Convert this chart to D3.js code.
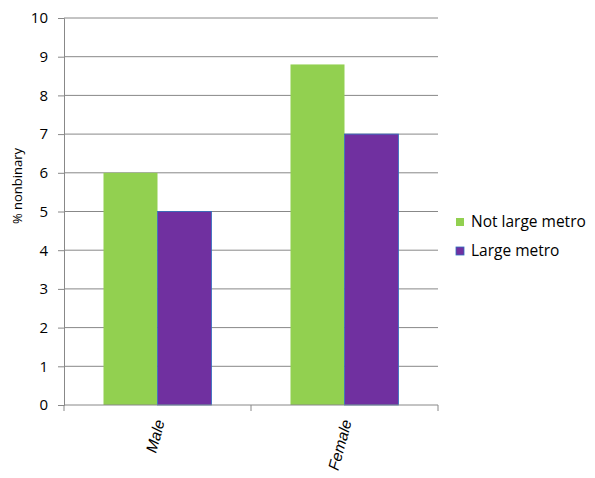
<!DOCTYPE html>
<html>
<head>
<meta charset="utf-8">
<script src="https://cdn.jsdelivr.net/npm/d3@7"></script>
<style>
  body { margin: 0; background: #fff; }
  svg { display: block; }
</style>
</head>
<body>
<svg id="chart"></svg>
<script>
const categories = ['Male', 'Female'];
const seriesNames = ['Not large metro', 'Large metro'];
const notLargeMetro = [6, 8.8];
const largeMetro = [5, 7];
const yTicks = [0, 1, 2, 3, 4, 5, 6, 7, 8, 9, 10];

const width = 595;
const height = 478;
const margin = { top: 18, right: 157, bottom: 73, left: 64 };

const colors = ['#92d050', '#7030a0'];
const strokes = ['none', '#2f6fbf'];

const svg = d3.select('#chart')
  .attr('width', width)
  .attr('height', height);

const plotW = width - margin.left - margin.right;
const plotH = height - margin.top - margin.bottom;

const g = svg.append('g')
  .attr('transform', `translate(${margin.left},${margin.top})`);

const x0 = d3.scaleBand()
  .domain(categories)
  .range([0, plotW]);

// bars sit in the middle of each band, gap of ~39px each side
const x1 = d3.scaleBand()
  .domain(seriesNames)
  .range([39.5, x0.bandwidth() - 39.5]);

const y = d3.scaleLinear()
  .domain([0, 10])
  .range([plotH, 0]);

// gridlines
g.append('g')
  .selectAll('line')
  .data(yTicks.filter(d => d > 0))
  .enter()
  .append('line')
  .attr('x1', 0)
  .attr('x2', plotW)
  .attr('y1', d => y(d))
  .attr('y2', d => y(d))
  .attr('stroke', '#888')
  .attr('stroke-width', 1);

// bars
const rows = categories.map((c, i) => ({
  cat: c,
  vals: [notLargeMetro[i], largeMetro[i]]
}));

const groups = g.selectAll('.grp')
  .data(rows)
  .enter()
  .append('g')
  .attr('class', 'grp')
  .attr('transform', d => `translate(${x0(d.cat)},0)`);

groups.selectAll('rect')
  .data(d => d.vals.map((v, j) => ({ name: seriesNames[j], v, j })))
  .enter()
  .append('rect')
  .attr('x', d => x1(d.name))
  .attr('width', x1.bandwidth())
  .attr('y', d => y(d.v))
  .attr('height', d => plotH - y(d.v))
  .attr('fill', d => colors[d.j])
  .attr('stroke', d => strokes[d.j])
  .attr('stroke-width', 0.8);

// y axis
const yAxis = g.append('g')
  .call(d3.axisLeft(y).tickValues(yTicks).tickSize(6).tickPadding(10));
yAxis.select('.domain').attr('stroke', '#888');
yAxis.selectAll('.tick line').attr('stroke', '#888');
yAxis.selectAll('text')
  .attr('font-family', 'Open Sans, sans-serif')
  .attr('font-size', 15)
  .attr('fill', '#000');

// x axis
const xAxisG = g.append('g').attr('transform', `translate(0,${plotH})`);
xAxisG.append('line')
  .attr('x1', 0).attr('x2', plotW)
  .attr('y1', 0).attr('y2', 0)
  .attr('stroke', '#888');
xAxisG.selectAll('.xt')
  .data(d3.range(categories.length + 1))
  .enter()
  .append('line')
  .attr('x1', i => i * x0.bandwidth())
  .attr('x2', i => i * x0.bandwidth())
  .attr('y1', 0)
  .attr('y2', 6)
  .attr('stroke', '#888');

xAxisG.selectAll('.xl')
  .data(categories)
  .enter()
  .append('text')
  .attr('transform', d => `translate(${x0(d) + x0.bandwidth() / 2 + 2},15) rotate(-75)`)
  .attr('text-anchor', 'end')
  .attr('dy', '0.35em')
  .attr('font-family', 'Liberation Sans, Arial, sans-serif')
  .attr('font-style', 'italic')
  .attr('font-size', 15.5)
  .text(d => d);

// y title
svg.append('text')
  .attr('transform', 'translate(17,186) rotate(-90)')
  .attr('text-anchor', 'middle')
  .attr('dy', '0.35em')
  .attr('font-family', 'Open Sans, sans-serif')
  .attr('font-size', 13)
  .text('% nonbinary');

// legend
const legend = svg.append('g').attr('transform', 'translate(456,222)');
const li = legend.selectAll('g')
  .data(seriesNames)
  .enter()
  .append('g')
  .attr('transform', (d, i) => `translate(0,${i * 29})`);
li.append('rect')
  .attr('x', 0)
  .attr('y', -4)
  .attr('width', 8)
  .attr('height', 8)
  .attr('fill', (d, i) => colors[i])
  .attr('stroke', (d, i) => strokes[i])
  .attr('stroke-width', 0.8);
li.append('text')
  .attr('x', 15)
  .attr('dy', '0.35em')
  .attr('font-family', 'Open Sans, sans-serif')
  .attr('font-size', 15.5)
  .text(d => d);
</script>
</body>
</html>
